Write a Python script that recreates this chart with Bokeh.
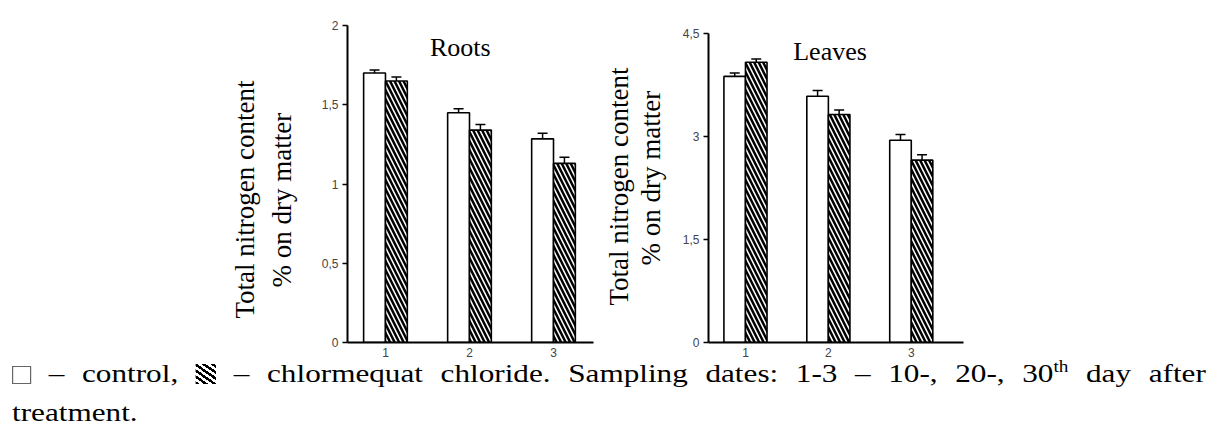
from bokeh.plotting import figure
from bokeh.models import (ColumnDataSource, Whisker, TeeHead, Range1d, FixedTicker,
                          Label, Div, Spacer, Title)
from bokeh.layouts import row, column
from bokeh.embed import file_html
from bokeh.resources import INLINE

# ---- data ----
sampling = [1, 2, 3]
tick_labels_x = ["1", "2", "3"]

roots_control = [1.70, 1.45, 1.285]
roots_control_err = [0.02, 0.025, 0.035]
roots_ccc = [1.65, 1.34, 1.13]
roots_ccc_err = [0.025, 0.035, 0.038]
roots_ticks = [0, 0.5, 1, 1.5, 2]
roots_tick_labels = ["0", "0,5", "1", "1,5", "2"]

leaves_control = [3.875, 3.585, 2.945]
leaves_control_err = [0.05, 0.085, 0.085]
leaves_ccc = [4.08, 3.32, 2.655]
leaves_ccc_err = [0.05, 0.065, 0.08]
leaves_ticks = [0, 1.5, 3, 4.5]
leaves_tick_labels = ["0", "1,5", "3", "4,5"]

ylabel_lines = ["Total nitrogen content", "% on dry matter"]

SERIF = "Liberation Serif"
SANS = "Liberation Sans"
BW = 0.26
OFF = 0.13


def make_panel(title, ctrl, ctrl_err, ccc, ccc_err, ticks, tlabels, xr, yr, axis_top,
               width, height, bl, br, bt, bb, title_xy, lab_offsets, lab_standoffs):
    p = figure(width=width, height=height, x_range=Range1d(*xr), y_range=Range1d(*yr),
               output_backend="svg", toolbar_location=None, title_location=None,
               min_border_left=bl, min_border_right=br, min_border_top=bt,
               min_border_bottom=bb)
    p.outline_line_color = None
    p.xgrid.visible = False
    p.ygrid.visible = False
    p.background_fill_color = "white"

    xc = [g - OFF for g in sampling]
    xh = [g + OFF for g in sampling]
    s1 = ColumnDataSource(dict(x=xc, top=ctrl,
                               lo=[v - e for v, e in zip(ctrl, ctrl_err)],
                               hi=[v + e for v, e in zip(ctrl, ctrl_err)]))
    s2 = ColumnDataSource(dict(x=xh, top=ccc,
                               lo=[v - e for v, e in zip(ccc, ccc_err)],
                               hi=[v + e for v, e in zip(ccc, ccc_err)]))
    p.vbar(x="x", top="top", width=BW, source=s1, fill_color="white",
           line_color="black", line_width=1.6)
    p.vbar(x="x", top="top", width=BW, source=s2, fill_color="white",
           line_color="black", line_width=1.6, hatch_pattern="\\",
           hatch_color="black", hatch_weight=2.5, hatch_scale=9)
    for s in (s1, s2):
        w = Whisker(base="x", lower="lo", upper="hi", source=s, line_width=1.5,
                    line_color="black",
                    upper_head=TeeHead(size=10, line_width=1.5, line_color="black"),
                    lower_head=TeeHead(size=10, line_width=1.5, line_color="black"))
        p.add_layout(w)

    # axes
    p.yaxis.ticker = FixedTicker(ticks=ticks)
    p.yaxis.bounds = (0, axis_top)
    p.yaxis.major_label_overrides = {t: l for t, l in zip(ticks, tlabels)}
    p.yaxis.minor_tick_line_color = None
    p.yaxis.major_tick_out = 5
    p.yaxis.major_tick_in = 0
    p.yaxis.major_tick_line_width = 1.5
    p.yaxis.axis_line_width = 2
    p.yaxis.major_label_text_font = SANS
    p.yaxis.major_label_text_font_size = "12px"
    p.yaxis.major_label_text_color = "#444444"
    p.yaxis.major_label_standoff = 4

    p.xaxis.ticker = FixedTicker(ticks=sampling)
    p.xaxis.major_label_overrides = {g: l for g, l in zip(sampling, tick_labels_x)}
    p.xaxis.major_tick_line_color = None
    p.xaxis.major_tick_out = 0
    p.xaxis.major_tick_in = 0
    p.xaxis.minor_tick_line_color = None
    p.xaxis.minor_tick_out = 0
    p.xaxis.axis_line_width = 2
    p.xaxis.major_label_text_font = SANS
    p.xaxis.major_label_text_font_size = "12px"
    p.xaxis.major_label_text_color = "#444444"
    p.xaxis.major_label_standoff = 5

    # two-line y-axis label as two stacked left titles (inner line added first)
    items = list(zip(ylabel_lines, lab_offsets, lab_standoffs, ["bottom", "top"]))
    for txt, off, so, va in reversed(items):
        p.add_layout(Title(text=txt, align="left", offset=off, standoff=so,
                           vertical_align=va,
                           text_font=SERIF, text_font_size="27px", text_font_style="normal",
                           text_color="black"), "left")

    p.add_layout(Label(x=title_xy[0], y=title_xy[1], text=title, text_align="center",
                       text_baseline="alphabetic", text_font=SERIF,
                       text_font_size="26px", text_color="black"))
    return p


H = 360
p1 = make_panel("Roots", roots_control, roots_control_err, roots_ccc, roots_ccc_err,
                roots_ticks, roots_tick_labels, (0.548, 3.476), (0, 2.0), 2.0,
                width=594, height=H, bl=347, br=1, bt=25, bb=H - 342,
                title_xy=(1.89, 1.86), lab_offsets=[24, 55], lab_standoffs=[-24, 39])
p2 = make_panel("Leaves", leaves_control, leaves_control_err, leaves_ccc, leaves_ccc_err,
                leaves_ticks, leaves_tick_labels, (0.554, 3.63), (0, 4.616), 4.5,
                width=394, height=H, bl=114, br=25, bt=25, bb=H - 342,
                title_xy=(2.02, 4.24), lab_offsets=[37, 77], lab_standoffs=[-18, 23])

SX = 1.2
W = 1195
FONT = "font-family:'Liberation Serif',serif;font-size:26px;color:#000;"
box_ctrl = ('<span style="display:inline-block;width:16px;height:18px;'
            'border:1px solid #666;vertical-align:-2px;background:#fff"></span>')
box_ccc = ('<span style="display:inline-block;width:17px;height:20px;vertical-align:-2px;'
           'background:repeating-linear-gradient(40deg,#000 0 2.3px,#fff 2.3px 4.6px)"></span>')
words = [box_ctrl, "&ndash;", "control,", box_ccc, "&ndash;", "chlormequat", "chloride.",
         "Sampling", "dates:", "1-3", "&ndash;", "10-,", "20-,",
         '30<sup style="font-size:16px;line-height:0;vertical-align:10px">th</sup>',
         "day", "after"]
inner_w = int(W / SX)
caption_html = (
    '<div style="width:%dpx;transform:scaleX(%.2f);transform-origin:0 0;%s">' % (inner_w, SX, FONT)
    + '<div style="width:%dpx;margin-top:-1px;line-height:20px;display:flex;'
      'justify-content:space-between;white-space:nowrap;%s">' % (inner_w, FONT)
    + "".join("<span>%s</span>" % w for w in words)
    + '</div><div style="line-height:58px;%s">treatment.</div></div>' % FONT
)
caption = Div(text=caption_html, width=W, height=425 - H)

layout = column(row(p1, p2), row(Spacer(width=7), caption))

with open("out.html", "w") as f:
    f.write(file_html(layout, INLINE))
